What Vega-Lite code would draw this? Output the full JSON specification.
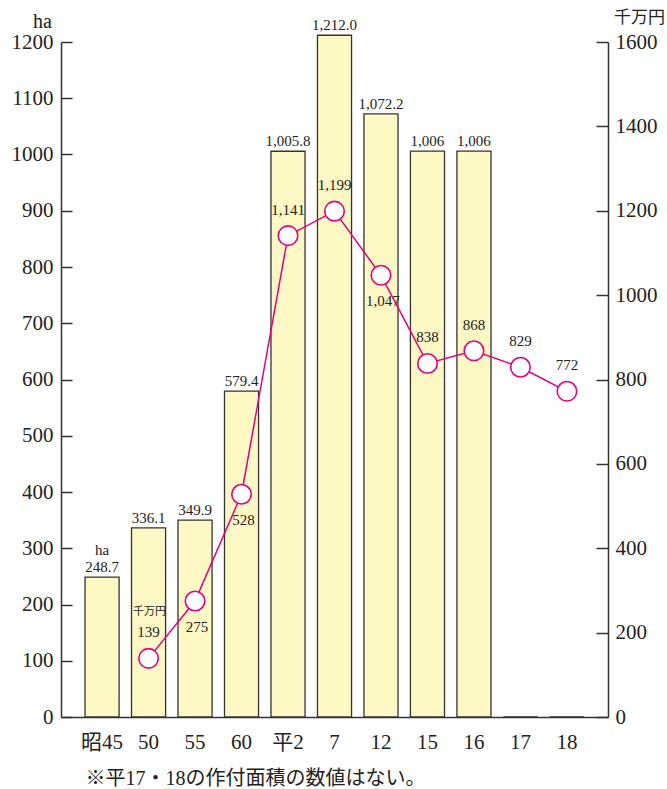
{
  "$schema": "https://vega.github.io/schema/vega-lite/v6.json",
  "width": 547,
  "height": 675,
  "autosize": {"type": "none"},
  "padding": {"left": 61, "top": 42, "right": 59, "bottom": 72},
  "background": "white",
  "config": {
    "view": {"stroke": null},
    "font": "'Liberation Serif', 'Noto Sans CJK JP', serif",
    "axis": {
      "grid": false,
      "domainColor": "#333333",
      "tickColor": "#333333",
      "domainWidth": 1.5,
      "tickWidth": 1.5,
      "labelColor": "#222222",
      "titleColor": "#222222",
      "labelFont": "'Liberation Serif', 'Noto Sans CJK JP', serif",
      "titleFont": "'Liberation Serif', 'Noto Sans CJK JP', serif",
      "labelFontSize": 21,
      "titleFontWeight": "normal"
    },
    "text": {"font": "'Liberation Serif', 'Noto Sans CJK JP', serif", "color": "#222222"}
  },
  "data": {
    "values": [
      {"cat": "昭45", "ha": 248.7, "haLabel": "248.7", "yen": null, "yenLabel": ""},
      {"cat": "50", "ha": 336.1, "haLabel": "336.1", "yen": 139, "yenLabel": "139"},
      {"cat": "55", "ha": 349.9, "haLabel": "349.9", "yen": 275, "yenLabel": "275"},
      {"cat": "60", "ha": 579.4, "haLabel": "579.4", "yen": 528, "yenLabel": "528"},
      {"cat": "平2", "ha": 1005.8, "haLabel": "1,005.8", "yen": 1141, "yenLabel": "1,141"},
      {"cat": "7", "ha": 1212.0, "haLabel": "1,212.0", "yen": 1199, "yenLabel": "1,199"},
      {"cat": "12", "ha": 1072.2, "haLabel": "1,072.2", "yen": 1047, "yenLabel": "1,047"},
      {"cat": "15", "ha": 1006, "haLabel": "1,006", "yen": 838, "yenLabel": "838"},
      {"cat": "16", "ha": 1006, "haLabel": "1,006", "yen": 868, "yenLabel": "868"},
      {"cat": "17", "ha": 0, "haLabel": "", "yen": 829, "yenLabel": "829"},
      {"cat": "18", "ha": 0, "haLabel": "", "yen": 772, "yenLabel": "772"}
    ]
  },
  "encoding": {
    "x": {
      "field": "cat",
      "type": "ordinal",
      "sort": null,
      "scale": {"paddingInner": 0.267, "paddingOuter": 0.517},
      "axis": {
        "ticks": false,
        "labelAngle": 0,
        "labelPadding": 14,
        "title": "※平17・18の作付面積の数値はない。",
        "titleFontSize": 20,
        "titleX": 24,
        "titleY": 67,
        "titleAlign": "left",
        "titleBaseline": "alphabetic"
      }
    }
  },
  "layer": [
    {
      "encoding": {
        "y": {
          "field": "ha",
          "type": "quantitative",
          "scale": {"domain": [0, 1200], "nice": false},
          "axis": {
            "orient": "left",
            "values": [0, 100, 200, 300, 400, 500, 600, 700, 800, 900, 1000, 1100, 1200],
            "format": "d",
            "tickSize": -11,
            "labelPadding": 19,
            "title": "ha",
            "titleFontSize": 20,
            "titleAngle": 0,
            "titleX": -19,
            "titleY": -15,
            "titleAlign": "center",
            "titleBaseline": "alphabetic"
          }
        }
      },
      "layer": [
        {
          "mark": {"type": "bar", "fill": "#FEF9C4", "stroke": "#333333", "strokeWidth": 1.3}
        },
        {
          "transform": [{"filter": "datum.haLabel != ''"}],
          "mark": {"type": "text", "fontSize": 15, "baseline": "alphabetic", "dy": -5},
          "encoding": {"text": {"field": "haLabel"}}
        },
        {
          "transform": [{"filter": "datum.cat == '昭45'"}],
          "mark": {"type": "text", "fontSize": 15, "baseline": "alphabetic", "dy": -22},
          "encoding": {"text": {"value": "ha"}}
        }
      ]
    },
    {
      "encoding": {
        "y": {
          "field": "yen",
          "type": "quantitative",
          "scale": {"domain": [0, 1600], "nice": false},
          "axis": {
            "orient": "right",
            "values": [0, 200, 400, 600, 800, 1000, 1200, 1400, 1600],
            "format": "d",
            "tickSize": -12,
            "labelPadding": 19,
            "title": "千万円",
            "titleFontSize": 17,
            "titleAngle": 0,
            "titleX": 31,
            "titleY": -20,
            "titleAlign": "center",
            "titleBaseline": "alphabetic"
          }
        }
      },
      "layer": [
        {
          "mark": {"type": "line", "color": "#E4007F", "strokeWidth": 1.5}
        },
        {
          "mark": {"type": "point", "shape": "circle", "filled": true, "fill": "white", "stroke": "#E4007F", "strokeWidth": 1.6, "size": 380, "opacity": 1}
        },
        {
          "transform": [{"filter": "datum.yenLabel != '' && datum.cat != '55' && datum.cat != '60' && datum.cat != '12'"}],
          "mark": {"type": "text", "fontSize": 15, "baseline": "alphabetic", "dy": -21},
          "encoding": {"text": {"field": "yenLabel"}}
        },
        {
          "transform": [{"filter": "datum.cat == '55' || datum.cat == '60' || datum.cat == '12'"}],
          "mark": {"type": "text", "fontSize": 15, "baseline": "alphabetic", "dy": 31, "dx": 2},
          "encoding": {"text": {"field": "yenLabel"}}
        },
        {
          "transform": [{"filter": "datum.cat == '50'"}],
          "mark": {"type": "text", "fontSize": 11, "baseline": "alphabetic", "dy": -43, "dx": 1},
          "encoding": {"text": {"value": "千万円"}}
        }
      ]
    }
  ],
  "resolve": {"scale": {"y": "independent"}}
}
